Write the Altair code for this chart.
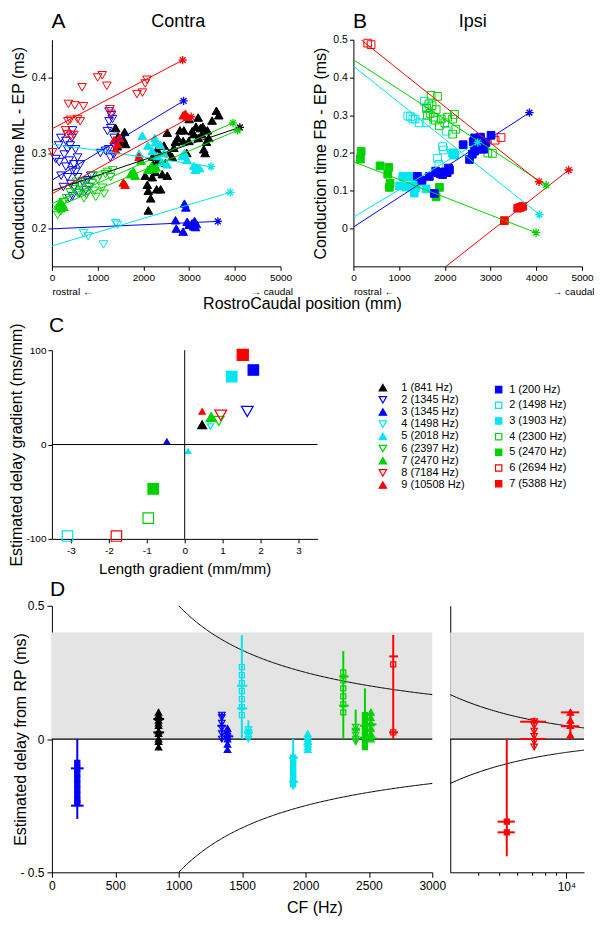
import altair as alt
import pandas as pd

FONT = "Liberation Sans"

# ---------------- series labels ----------------
contra_names = ["1 (841 Hz)", "2 (1345 Hz)", "3 (1345 Hz)", "4 (1498 Hz)", "5 (2018 Hz)",
                "6 (2397 Hz)", "7 (2470 Hz)", "8 (7184 Hz)", "9 (10508 Hz)"]
ipsi_names = ["1 (200 Hz)", "2 (1498 Hz)", "3 (1903 Hz)", "4 (2300 Hz)", "5 (2470 Hz)",
              "6 (2694 Hz)", "7 (5388 Hz)"]

# ---------------- Panel A (Contra): position (mm), conduction time (ms) ----------------
A1 = [(1395,0.333),(1450,0.322),(1590,0.328),(1555,0.319),(1430,0.309),(1610,0.312),(1480,0.315),
      (2040,0.270),(2086,0.258),(2107,0.250),(2108,0.224),(2160,0.240),(2195,0.268),(2220,0.285),
      (2260,0.275),(2290,0.252),(2325,0.290),(2378,0.252),(2413,0.272),(2485,0.287),(2522,0.270),
      (2522,0.327),(2560,0.300),(2631,0.295),(2667,0.307),(2700,0.315),(2750,0.320),(2800,0.330),
      (2870,0.316),(2885,0.330),(2994,0.316),(3067,0.329),(3100,0.325),(3150,0.335),(3198,0.347),
      (3200,0.320),(3248,0.333),(3280,0.325),(3300,0.335),(3321,0.305),(3350,0.300),(3380,0.315),
      (3400,0.330),(3430,0.320),(3503,0.343),(3597,0.356),(3650,0.350),(3000,0.345),(2950,0.300),
      (2300,0.305),(2200,0.295),(2450,0.310)]
A2 = [(87,0.292),(160,0.288),(196,0.320),(269,0.298),(305,0.316),(305,0.282),(342,0.305),(342,0.268),
      (378,0.290),(414,0.259),(436,0.320),(451,0.330),(451,0.277),(451,0.243),(487,0.255),(516,0.305),
      (560,0.294),(560,0.268),(596,0.247),(669,0.262),(741,0.251),(778,0.264),(814,0.255),(250,0.255),
      (200,0.270),(380,0.240),(520,0.275),(620,0.285),(150,0.310),(400,0.310),(480,0.285),(850,0.270),
      (1170,0.303),(1214,0.329),(1242,0.305),(1250,0.342),(1278,0.294),(1287,0.333),(1323,0.345),
      (1351,0.298),(1360,0.320),(1250,0.355),(1300,0.350),(1060,0.300)]
A3 = [(2703,0.211),(2720,0.200),(2870,0.196),(2899,0.233),(2930,0.228),(2957,0.209),(3000,0.205),
      (3066,0.207),(3100,0.203),(3139,0.202),(3160,0.206),(3120,0.210)]
A4 = [(690,0.194),(792,0.190),(1127,0.179),(1396,0.207),(1432,0.205)]
A5 = [(1904,0.299),(1977,0.323),(2100,0.310),(2195,0.303),(2264,0.314),(2300,0.296),(2370,0.311),
      (2400,0.288),(2450,0.300),(2520,0.285),(2849,0.296),(2900,0.300),(2957,0.291),(3103,0.283),
      (3140,0.278),(3176,0.281),(3230,0.280),(2250,0.320)]
A6 = [(124,0.218),(150,0.225),(196,0.223),(250,0.235),(320,0.240),(400,0.248),(480,0.252),(560,0.247),
      (620,0.258),(669,0.251),(720,0.262),(760,0.245),(820,0.255),(880,0.260),(930,0.250),(960,0.242),
      (1000,0.265),(1040,0.270),(1105,0.254),(1141,0.246),(1170,0.272),(1214,0.275),(1286,0.268),
      (1330,0.277),(900,0.270),(700,0.240),(540,0.262)]
A7 = [(150,0.230),(180,0.235),(200,0.227),(230,0.232),(260,0.229),(1720,0.272),(1780,0.276),
      (1820,0.270),(2180,0.283),(2230,0.279),(2280,0.281),(1950,0.290),(2100,0.278)]
A8 = [(15,0.301),(330,0.325),(420,0.323),(480,0.324),(360,0.365),(500,0.363),(690,0.362),(400,0.344),
      (560,0.345),(620,0.342),(660,0.387),(1000,0.400),(1100,0.403),(1200,0.389),(1270,0.358),
      (1290,0.352),(1860,0.378),(1980,0.380),(2040,0.392),(2080,0.397),(300,0.330),(350,0.342)]
A9 = [(1360,0.317),(1396,0.304),(1430,0.312),(1480,0.320),(1563,0.261),(1600,0.258),(1905,0.295),
      (2872,0.350),(2920,0.352),(2960,0.348)]
# regression lines: start and end (end carries the asterisk)
A_fit_x0 = [0, 0, 0, 0, 0, 0, 0, 0, 0]
A_fit_y0 = [0.250, 0.264, 0.1996, 0.177, 0.312, 0.226, 0.233, 0.332, 0.246]
A_fit_x1 = [4110, 2880, 3630, 3900, 3480, 4060, 3960, 2860, 3045]
A_fit_y1 = [0.334, 0.369, 0.2095, 0.248, 0.282, 0.330, 0.340, 0.423, 0.348]

# ---------------- Panel B (Ipsi) ----------------
B1 = [(1400,0.138),(1500,0.128),(1660,0.138),(1770,0.093),(1800,0.152),(1850,0.148),(1900,0.145),
      (1950,0.143),(2000,0.150),(2050,0.148),(2080,0.160),(2100,0.155),(2400,0.222),(2540,0.183),
      (2600,0.197),(2620,0.230),(2650,0.205),(2650,0.240),(2700,0.210),(2750,0.232),(2780,0.242),
      (2800,0.215),(2850,0.210),(2900,0.228),(3010,0.247)]
B2 = [(1190,0.298),(1250,0.296),(1300,0.290),(1350,0.290),(1440,0.280),(1550,0.337),(1590,0.280),
      (1600,0.322),(1840,0.186),(1870,0.170),(1950,0.217),(1970,0.208),(2030,0.258),(2170,0.200),
      (2200,0.195)]
B3 = [(1010,0.113),(1080,0.138),(1150,0.110),(1160,0.138),(1230,0.113),(1240,0.138),(1320,0.138),
      (1330,0.094),(1370,0.109),(1420,0.125),(1590,0.105),(2180,0.200),(2210,0.195)]
B4 = [(1600,0.318),(1620,0.300),(1650,0.330),(1680,0.305),(1700,0.353),(1720,0.325),(1750,0.295),
      (1790,0.287),(1810,0.315),(1840,0.350),(1880,0.272),(1920,0.290),(2000,0.280),(2060,0.295),
      (2170,0.290),(2170,0.250),(2210,0.302),(2240,0.263),(2800,0.232),(2870,0.222),(2940,0.200),
      (3040,0.199)]
B5 = [(153,0.184),(168,0.204),(583,0.166),(751,0.144),(773,0.162),(787,0.109),(802,0.120),
      (1808,0.084),(1881,0.109)]
B6 = [(313,0.491),(386,0.487),(2750,0.235),(3098,0.234),(3229,0.241)]
B7 = [(3302,0.021),(3594,0.054),(3650,0.056),(3703,0.059)]
B_fit_x0 = [0, 0, 0, 0, 0, 168, 2027]
B_fit_y0 = [0.004, 0.430, 0.030, 0.447, 0.177, 0.500, -0.100]
B_fit_x1 = [3850, 4068, 2720, 4214, 3995, 4060, 4709]
B_fit_y1 = [0.307, 0.037, 0.228, 0.115, -0.011, 0.124, 0.155]

# ---------------- Panel C: gradients ----------------
C_contra_x = [0.46, 1.65, -0.47, 0.68, 0.09, 0.90, 0.70, 0.95, 0.46]
C_contra_y = [21, 35, 3, 19, -7, 25, 29, 31, 35]
C_ipsi_x = [1.81, -3.09, 1.24, -0.96, -0.83, -1.80, 1.53]
C_ipsi_y = [79, -97, 72, -78, -47, -97, 95]

# ---------------- Panel D: estimated delay vs CF ----------------
D_names = ["1 (200 Hz)", "1 (841 Hz)", "2 (1345 Hz)", "3 (1345 Hz)", "2 (1498 Hz)", "4 (1498 Hz)",
           "3 (1903 Hz)", "5 (2018 Hz)", "4 (2300 Hz)", "6 (2397 Hz)", "5 (2470 Hz)", "7 (2470 Hz)",
           "6 (2694 Hz)", "7 (5388 Hz)", "8 (7184 Hz)", "9 (10508 Hz)"]
D_cf = [200, 841, 1340, 1385, 1498, 1550, 1903, 2018, 2298, 2396, 2469, 2516, 2692, 5390, 7160, 10420]
D_lo = [-0.30, -0.04, -0.01, -0.04, 0.0, 0.0, -0.19, -0.04, 0.0, -0.02, -0.03, 0.0, 0.0, -0.44, -0.04, 0.0]
D_hi = [0.0, 0.11, 0.10, 0.04, 0.39, 0.07, 0.0, 0.03, 0.33, 0.11, 0.19, 0.11, 0.39, 0.0, 0.08, 0.11]
D_tick_lo = [150, 800, 1305, 1350, 1460, 1515, 1870, 1985, 2265, 2365, 2430, 2480, 2660, 4900, 6190, 9440]
D_tick_hi = [250, 885, 1375, 1430, 1540, 1585, 1940, 2050, 2340, 2430, 2510, 2560, 2730, 5860, 8090, 11420]
D_ticks = [[-0.11, -0.25], [0.025, 0.075], [0.05], [0.01], [0.2, 0.115], [0.025], [-0.07, -0.16],
           [-0.02], [0.235, 0.125], [0.035], [0.05, 0.005], [0.055, 0.003], [0.31, 0.025],
           [-0.31, -0.35], [0.065, 0.0], [0.1, 0.048]]
D_marks = [[-0.09, -0.11, -0.13, -0.15, -0.17, -0.19, -0.21, -0.23, -0.24],
           [-0.03, -0.01, 0.0, 0.02, 0.03, 0.05, 0.06, 0.07, 0.08, 0.09, 0.10],
           [0.0, 0.02, 0.04, 0.06, 0.08, 0.09],
           [-0.04, -0.02, 0.0, 0.01, 0.02, 0.03, 0.04],
           [0.09, 0.12, 0.15, 0.18, 0.21, 0.24, 0.27],
           [0.0, 0.01, 0.025, 0.035],
           [-0.07, -0.09, -0.11, -0.13, -0.15, -0.17],
           [-0.04, -0.03, -0.02, -0.01, 0.0, 0.01, 0.02],
           [0.10, 0.13, 0.16, 0.19, 0.22, 0.25],
           [-0.01, 0.0, 0.015, 0.03, 0.045],
           [-0.03, -0.01, 0.01, 0.03, 0.05, 0.07, 0.09],
           [0.0, 0.02, 0.04, 0.06, 0.08, 0.10],
           [0.28, 0.025],
           [-0.31, -0.35],
           [-0.03, -0.01, 0.01, 0.03, 0.05, 0.065],
           [0.015, 0.05, 0.07, 0.10]]
BAND_LO, BAND_HI = 0.0, 0.4          # shaded region (ms)
HALF_PERIOD = 500.0                  # +-1/(2 CF) in ms*Hz

# ---------------- styles ----------------
BLACK, BLUE, CYAN, GREEN, RED = "#000000", "#0000ff", "#00e5ee", "#00d200", "#ff0000"
contra_colors = [BLACK, BLUE, BLUE, CYAN, CYAN, GREEN, GREEN, RED, RED]
ipsi_colors = [BLUE, CYAN, CYAN, GREEN, GREEN, RED, RED]
contra_shapes = ["triangle-up", "triangle-down"] * 4 + ["triangle-up"]
contra_open = [False, True] * 4 + [False]
ipsi_open = [False, True, False, True, False, True, False]
ASTER = "M-1,0L1,0M0,-1L0,1M-0.7,-0.7L0.7,0.7M-0.7,0.7L0.7,-0.7"


def make_scales(names, colors, shapes, opens):
    fills = ["transparent" if o else c for c, o in zip(colors, opens)]
    return (alt.Scale(domain=names, range=shapes), alt.Scale(domain=names, range=colors),
            alt.Scale(domain=names, range=fills))


ALL = make_scales(contra_names + ipsi_names, contra_colors + ipsi_colors,
                  contra_shapes + ["square"] * 7, contra_open + ipsi_open)
CON = make_scales(contra_names, contra_colors, contra_shapes, contra_open)
IPS = make_scales(ipsi_names, ipsi_colors, ["square"] * 7, ipsi_open)


def sym(field, sc, legend=None):
    sh, st, fi = sc
    return dict(shape=alt.Shape(f"{field}:N", scale=sh, legend=legend),
                stroke=alt.Stroke(f"{field}:N", scale=st, legend=legend),
                fill=alt.Fill(f"{field}:N", scale=fi, legend=legend))


def stroke_only(field="series"):
    return alt.Stroke(f"{field}:N", scale=ALL[1], legend=None)


def title_axis(orient, text, size, tx, ty, align):
    return alt.Axis(orient=orient, labels=False, ticks=False, domain=False, grid=False,
                    title=text, titleFontSize=size, titleX=tx, titleY=ty, titleAlign=align,
                    titleBaseline="alphabetic")


def pos_panel(names, pts_lists, fx0, fy0, fx1, fy1, ydom, yvals, ytitle, letter, side, side_x,
              size, order):
    W, H = 229, 227
    rows = []
    for i in order:
        for x, y in pts_lists[i]:
            rows.append({"series": names[i], "x": x, "y": y})
    pts = pd.DataFrame(rows)
    lines = pd.DataFrame([{"series": n, "x": a, "y": b} for n, a, b in zip(names, fx0, fy0)] +
                         [{"series": n, "x": a, "y": b} for n, a, b in zip(names, fx1, fy1)])
    ends = pd.DataFrame({"series": names, "x": fx1, "y": fy1})
    xs = alt.Scale(domain=[0, 5000], nice=False, zero=False)
    ys = alt.Scale(domain=ydom, nice=False, zero=False)
    xax = alt.Axis(orient="bottom", values=[0, 1000, 2000, 3000, 4000, 5000], format="d",
                   labelFontSize=10, tickSize=4, labelPadding=2, title="rostral \u2190",
                   titleFontSize=10, titleX=0, titleY=28, titleAlign="left",
                   titleBaseline="alphabetic")
    yax = alt.Axis(values=yvals, labelExpr="datum.value == 0 ? '0' : format(datum.value, '.1f')",
                   labelFontSize=10.5, tickSize=4, labelPadding=2, title=ytitle, titleFontSize=16,
                   minExtent=22, maxExtent=22, titlePadding=3)
    p = alt.Chart(pts).mark_point(size=size, strokeWidth=1, opacity=1).encode(
        x=alt.X("x:Q", scale=xs, axis=xax), y=alt.Y("y:Q", scale=ys, axis=yax), **sym("series", ALL))
    l = alt.Chart(lines).mark_line(strokeWidth=1, clip=True).encode(
        x=alt.X("x:Q", scale=xs, axis=title_axis("top", letter, 21, -1, -12, "left")),
        y=alt.Y("y:Q", scale=ys), stroke=stroke_only(), detail="series:N")
    e = alt.Chart(ends).mark_point(shape=ASTER, size=70, strokeWidth=1.3, filled=False, opacity=1).encode(
        x=alt.X("x:Q", scale=xs, axis=title_axis("top", side, 18, side_x, -13, "center")),
        y=alt.Y("y:Q", scale=ys), stroke=stroke_only())
    q = alt.Chart(ends).mark_point(opacity=0).encode(
        x=alt.X("x:Q", scale=xs, axis=title_axis("bottom", "\u2192 caudal", 10, W + 12, 28, "right")),
        y=alt.Y("y:Q", scale=ys))
    return alt.layer(p, l, e, q).properties(width=W, height=H)


A = pos_panel(contra_names, [A1, A2, A3, A4, A5, A6, A7, A8, A9], A_fit_x0, A_fit_y0, A_fit_x1,
              A_fit_y1, [0.15, 0.45], [0.2, 0.3, 0.4], "Conduction time ML - EP (ms)", "A",
              "Contra", 126, 75, [1, 5, 7, 3, 0, 4, 6, 2, 8])
B = pos_panel(ipsi_names, [B1, B2, B3, B4, B5, B6, B7], B_fit_x0, B_fit_y0, B_fit_x1, B_fit_y1,
              [-0.1, 0.5], [0, 0.1, 0.2, 0.3, 0.4, 0.5], "Conduction time FB - EP (ms)", "B",
              "Ipsi", 119, 60, [1, 3, 5, 2, 4, 0, 6])

row1 = alt.hconcat(A, B, spacing=20,
                   title=alt.TitleParams("RostroCaudal position (mm)", orient="bottom",
                                         anchor="middle", fontSize=16, offset=0))

# ---------------- C ----------------
zero_df = pd.DataFrame({"v": [0]})
xsC = alt.Scale(domain=[-3.5, 3.5], nice=False, zero=False)
ysC = alt.Scale(domain=[-100, 100], nice=False, zero=False)
c_sizes_contra = [80, 140, 40, 40, 30, 110, 110, 140, 40]
c_sizes_ipsi = [110, 110, 110, 110, 110, 110, 125]
cc = pd.DataFrame({"cname": contra_names, "x": C_contra_x, "y": C_contra_y, "sz": c_sizes_contra})
ci = pd.DataFrame({"iname": ipsi_names, "x": C_ipsi_x, "y": C_ipsi_y, "sz": c_sizes_ipsi})
leg_c = alt.Legend(title=None, orient="none", legendX=326, legendY=32, labelFontSize=11,
                   labelFont=FONT, symbolSize=55, symbolStrokeWidth=1.2, rowPadding=-0.8,
                   padding=0, labelOffset=13, labelColor="black")
leg_i = alt.Legend(title=None, orient="none", legendX=442, legendY=34, labelFontSize=11,
                   labelFont=FONT, symbolSize=40, symbolStrokeWidth=1.2, rowPadding=2.7,
                   padding=0, labelOffset=5, labelColor="black")
c_xax = alt.Axis(values=[-3, -2, -1, 0, 1, 2, 3], labelExpr="replace(datum.label, '\u2212', '-')",
                 labelFontSize=10, tickSize=4, labelPadding=3, title="Length gradient (mm/mm)",
                 titleFontSize=15, titlePadding=6)
c_yax = alt.Axis(values=[-100, 0, 100], labelExpr="replace(datum.label, '\u2212', '-')",
                 labelFontSize=10, tickSize=4, labelPadding=2, title="Estimated delay gradient (ms/mm)",
                 titleFontSize=16, minExtent=22, maxExtent=22, titlePadding=5)
rv = alt.Chart(zero_df).mark_rule(color="black").encode(x=alt.X("v:Q", scale=xsC))
rh = alt.Chart(zero_df).mark_rule(color="black").encode(y=alt.Y("v:Q", scale=ysC))
pc = alt.Chart(cc).mark_point(strokeWidth=1.2, opacity=1).encode(
    x=alt.X("x:Q", scale=xsC, axis=c_xax), y=alt.Y("y:Q", scale=ysC, axis=c_yax),
    size=alt.Size("sz:Q", scale=None), **sym("cname", CON, leg_c))
pi = alt.Chart(ci).mark_point(strokeWidth=1.2, opacity=1).encode(
    x=alt.X("x:Q", scale=xsC), y=alt.Y("y:Q", scale=ysC),
    size=alt.Size("sz:Q", scale=None), **sym("iname", IPS, leg_i))
C = alt.layer(pc, rv, rh, pi).resolve_scale(
    shape="independent", stroke="independent", fill="independent").properties(
    width=266, height=189,
    title=alt.TitleParams("C", anchor="start", frame="group", fontSize=21, offset=-13, dx=-3))

# ---------------- D ----------------
ysD = alt.Scale(domain=[-0.5, 0.5], nice=False, zero=False)
band_df = pd.DataFrame({"lo": [BAND_LO], "hi": [BAND_HI]})
contra_set = set(contra_names)


def d_frames(sel):
    idx = [i for i in range(len(D_names)) if sel(D_cf[i])]
    vl = pd.DataFrame({"series": [D_names[i] for i in idx], "cf": [D_cf[i] for i in idx],
                       "lo": [D_lo[i] for i in idx], "hi": [D_hi[i] for i in idx]})
    tk = pd.DataFrame([{"series": D_names[i], "xlo": D_tick_lo[i], "xhi": D_tick_hi[i], "y": y}
                       for i in idx for y in D_ticks[i]])
    mk = pd.DataFrame([{"series": D_names[i], "cf": D_cf[i], "y": y}
                       for i in idx for y in D_marks[i]])
    return vl, tk, mk


def d_panel(sel, xs, xax, yax, f0, f1, fstep, width, title=None):
    vl, tk, mk = d_frames(sel)
    mk_c = mk[mk.series.isin(contra_set)]
    mk_i = mk[~mk.series.isin(contra_set)]
    vlines = alt.Chart(vl).mark_rule(strokeWidth=2).encode(
        x=alt.X("cf:Q", scale=xs, axis=xax), y=alt.Y("lo:Q", scale=ysD, axis=yax), y2="hi:Q",
        stroke=stroke_only())
    band = alt.Chart(band_df).mark_rect(color="#e4e4e4").encode(
        y=alt.Y("lo:Q", scale=ysD), y2="hi:Q")
    curve = alt.Chart(alt.sequence(f0, f1, fstep, as_="f")).transform_calculate(
        up=f"{HALF_PERIOD}/datum.f", dn=f"-{HALF_PERIOD}/datum.f").transform_fold(
        ["up", "dn"], as_=["k", "v"]).mark_line(color="black", strokeWidth=1).encode(
        x=alt.X("f:Q", scale=xs), y=alt.Y("v:Q", scale=ysD), detail="k:N")
    zero = alt.Chart(zero_df).mark_rule(color="black", strokeWidth=1.2).encode(
        y=alt.Y("v:Q", scale=ysD))
    ticks = alt.Chart(tk).mark_rule(strokeWidth=2).encode(
        x=alt.X("xlo:Q", scale=xs), x2="xhi:Q", y=alt.Y("y:Q", scale=ysD),
        stroke=stroke_only())
    layers = [band, curve, zero, vlines, ticks]
    if len(mk_i):
        layers.append(alt.Chart(mk_i).mark_point(size=26, strokeWidth=1.2, opacity=1).encode(
            x=alt.X("cf:Q", scale=xs), y=alt.Y("y:Q", scale=ysD), **sym("series", ALL)))
    if len(mk_c):
        layers.append(alt.Chart(mk_c).mark_point(size=42, strokeWidth=1.2, opacity=1).encode(
            x=alt.X("cf:Q", scale=xs), y=alt.Y("y:Q", scale=ysD), **sym("series", ALL)))
    props = dict(width=width, height=267)
    if title is not None:
        props["title"] = title
    return alt.layer(*layers).properties(**props)


xsD1 = alt.Scale(domain=[0, 3000], nice=False, zero=False)
xsD2 = alt.Scale(type="log", domain=[3000, 12000], nice=False)
d1_xax = alt.Axis(values=[0, 500, 1000, 1500, 2000, 2500, 3000], format="d", labelFontSize=12,
                  tickSize=5, labelPadding=3, title="CF (Hz)", titleFontSize=16, titleX=263,
                  titleY=40, titleAlign="center", titleBaseline="alphabetic")
d1_yax = alt.Axis(values=[-0.5, 0, 0.5],
                  labelExpr="datum.value < 0 ? '- ' + format(-datum.value, '.1f') : (datum.value == 0 ? '0' : format(datum.value, '.1f'))",
                  labelFontSize=12, tickSize=5, labelPadding=3, title="Estimated delay from RP (ms)",
                  titleFontSize=16, minExtent=22, maxExtent=22, titlePadding=1)
d2_xax = alt.Axis(values=[4000, 5000, 6000, 7000, 8000, 9000, 10000],
                  labelExpr="datum.value == 10000 ? '10\u2074' : ''", labelFontSize=12,
                  tickSize={"condition": {"test": "datum.value == 10000", "value": 6}, "value": 3},
                  labelPadding=3, title=None)
d2_yax = alt.Axis(labels=False, ticks=False, title=None, domain=True, minExtent=0, maxExtent=0)

D1 = d_panel(lambda f: f <= 3000, xsD1, d1_xax, d1_yax, 1000, 3000.5, 10, 381,
             alt.TitleParams("D", anchor="start", frame="group", fontSize=21, offset=0, dx=-2))
D2 = d_panel(lambda f: f > 3000, xsD2, d2_xax, d2_yax, 3000, 12000.5, 100, 134)
row3 = alt.hconcat(D1, D2, spacing=2)

chart = alt.vconcat(row1, C, row3, spacing=2,
                    padding={"left": 0, "top": 2, "right": 0, "bottom": 0}).resolve_scale(
    shape="independent", stroke="independent", fill="independent").configure_view(
    stroke=None).configure_axis(
    grid=False, labelFlush=False, domainColor="black", tickColor="black", labelColor="black",
    titleColor="black", titleFontWeight="normal", labelFont=FONT, titleFont=FONT).configure_title(
    font=FONT, subtitleFont=FONT, fontWeight="normal", color="black", subtitleColor="black")

chart.save("out.html", embed_options={"renderer": "svg", "actions": False})
